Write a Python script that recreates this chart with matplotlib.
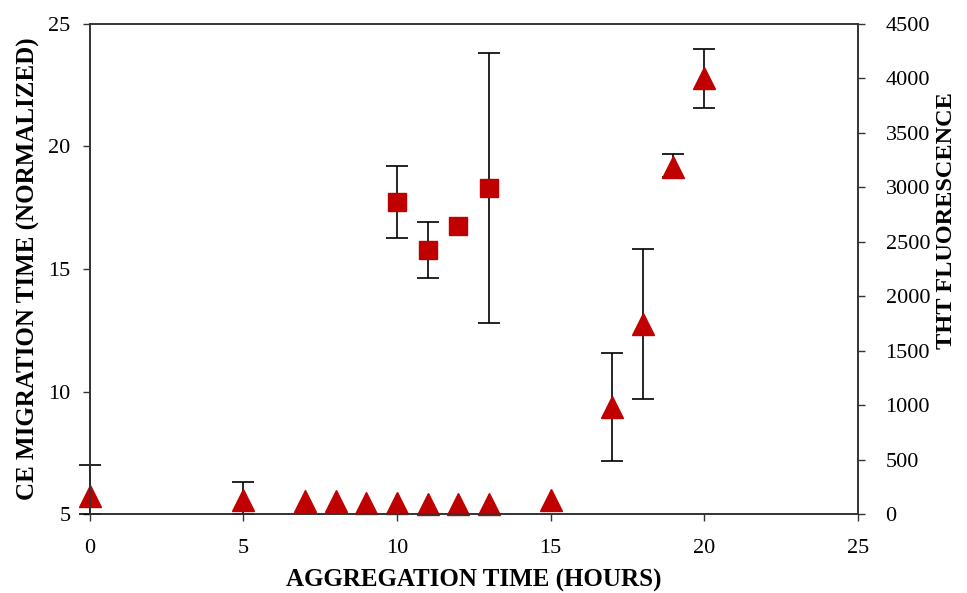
import matplotlib.pyplot as plt

# CE migration time (left axis, squares)
ce_time = [10, 11, 12, 13]
ce_val = [17.73, 15.78, 16.76, 18.3]
ce_err = [1.45, 1.15, 0.0, 5.5]

# ThT fluorescence (right axis, triangles)
tht_time = [0, 5, 7, 8, 9, 10, 11, 12, 13, 15, 17, 18, 19, 20]
tht_val = [165, 133, 119, 124, 101, 98, 95, 95, 95, 129, 983, 1745, 3182, 4000]
tht_err_hi = [285, 160, 0, 0, 0, 0, 0, 0, 0, 0, 496, 689, 124, 271]
tht_err_lo = [165, 133, 0, 0, 0, 0, 0, 0, 0, 0, 496, 689, 90, 271]

x_ticks = [0, 5, 10, 15, 20, 25]
left_ticks = [5, 10, 15, 20, 25]
right_ticks = [0, 500, 1000, 1500, 2000, 2500, 3000, 3500, 4000, 4500]

plt.rcParams['font.family'] = ['Liberation Serif', 'DejaVu Serif']
red = '#C00000'
spine_col = '#333333'

fig = plt.figure(figsize=(9.67, 5.93), dpi=100)
ax = fig.add_axes([0.093, 0.133, 0.794, 0.827])
ax2 = ax.twinx()

# error bars first (only where there is one), markers drawn on top
ce_e = [(t, v, e) for t, v, e in zip(ce_time, ce_val, ce_err) if e > 0]
ax.errorbar([p[0] for p in ce_e], [p[1] for p in ce_e], yerr=[p[2] for p in ce_e],
            fmt='none', ecolor='black', elinewidth=1.2, capsize=8, capthick=1.2,
            clip_on=False, zorder=2)
ax.plot(ce_time, ce_val, 's', color=red, ms=13.5, clip_on=False, zorder=4)

tht_e = [(t, v, lo, hi) for t, v, lo, hi in zip(tht_time, tht_val, tht_err_lo, tht_err_hi) if hi > 0]
ax2.errorbar([p[0] for p in tht_e], [p[1] for p in tht_e],
             yerr=[[p[2] for p in tht_e], [p[3] for p in tht_e]],
             fmt='none', ecolor='black', elinewidth=1.2, capsize=8, capthick=1.2,
             clip_on=False, zorder=2)
ax2.plot(tht_time, tht_val, '^', color=red, ms=16.5, clip_on=False, zorder=4)

ax.set_xlim(0, 25)
ax.set_ylim(5, 25)
ax2.set_ylim(0, 4500)
ax.set_xticks(x_ticks)
ax.set_yticks(left_ticks)
ax2.set_yticks(right_ticks)

for a in (ax, ax2):
    for s in a.spines.values():
        s.set_color(spine_col)
        s.set_linewidth(1.2)
        s.set_zorder(5)
    a.tick_params(direction='out', length=5, width=1.0, color=spine_col,
                  labelsize=16)
ax.tick_params(axis='x', pad=13)
ax.tick_params(axis='y', pad=9)
ax2.tick_params(axis='y', pad=15)

ax.set_xlabel('AGGREGATION TIME (HOURS)', fontsize=18, fontweight='bold', labelpad=8)
ax.set_ylabel('CE MIGRATION TIME (NORMALIZED)', fontsize=18, fontweight='bold', labelpad=6)
ax2.set_ylabel('THT FLUORESCENCE', fontsize=17.5, fontweight='bold')
ax2.yaxis.set_label_coords(1.102, 0.598)

fig.savefig('out.png', dpi=100)
